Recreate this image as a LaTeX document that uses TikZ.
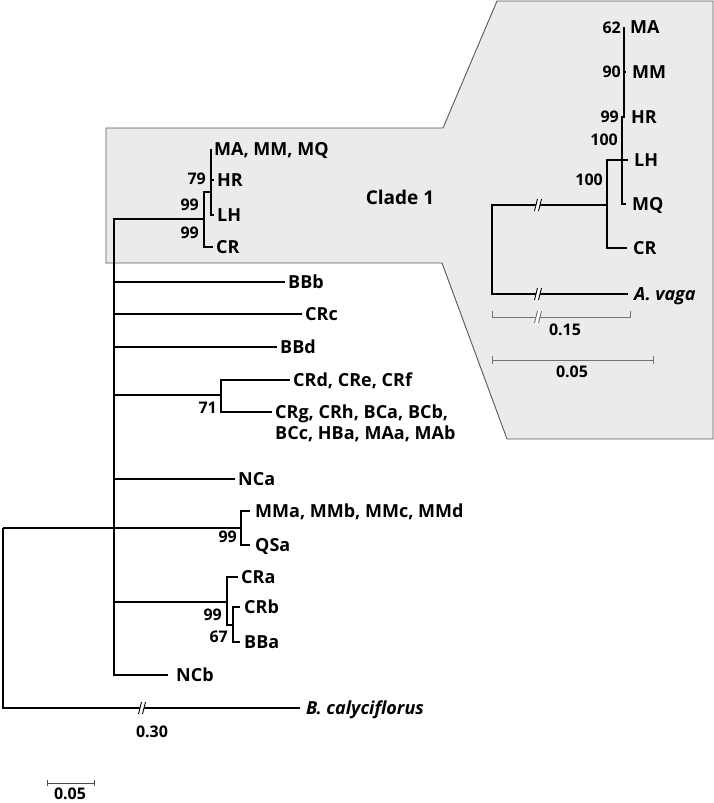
\documentclass[tikz,border=0pt]{standalone}
\usepackage{fontspec}
\setmainfont{Open Sans}

\tikzset{
	branch/.style={line width=1.3pt},
	taxon/.style={anchor=west, inner xsep=3pt, inner ysep=0pt, text height=13pt, text depth=0pt, font=\fontsize{18}{22}\selectfont\bfseries},
	itaxon/.style={taxon, inner xsep=6pt},
	boot/.style={anchor=east, inner sep=0pt, text height=11.5pt, text depth=0pt, font=\fontsize{16}{19}\selectfont\bfseries},
	bar/.style={line width=1pt, draw=black!55},
	brk/.pic={
		\fill[white] (-3.5,6) -- (-0.5,-6) -- (3.5,-6) -- (0.5,6) -- cycle;
		\draw[line width=0.9pt] (-3.5,6) -- (-0.5,-6) (0.5,6) -- (3.5,-6);
	}
}

\begin{document}
\begin{tikzpicture}[x=1pt,y=-1pt]
		\useasboundingbox (0,0) rectangle (714,803);
		% grey box for clade 1 and its blow-up
		\filldraw[fill=black!8, draw=black!65, line width=0.9pt] (106,128) -- (443,128) -- (497,1) -- (713,1) -- (713,439) -- (507,439) -- (442,263) -- (106,263) -- cycle;
		\node[font=\fontsize{19}{23}\selectfont\bfseries] (clade) at (400,197) {Clade 1};
		% inner nodes of the main tree
		\coordinate (root) at (3,528);
		\coordinate (bb) at (114,528);
		\coordinate (c1) at (204,219);
		\coordinate (c1a) at (211,192);
		\coordinate (n71) at (221,395);
		\coordinate (nmm) at (241,528);
		\coordinate (ncra) at (227,602);
		\coordinate (ncrb) at (233,625);
		% tips
		\node[taxon] (mam) at (211,149) {MA, MM, MQ};
		\node[taxon] (hr) at (214,180) {HR};
		\node[taxon] (lh) at (214,215) {LH};
		\node[taxon] (cr) at (213,247) {CR};
		\node[taxon] (bbb) at (285,282) {BBb};
		\node[taxon] (crc) at (302,314) {CRc};
		\node[taxon] (bbd) at (277,347) {BBd};
		\node[taxon] (crd) at (290,380) {CRd, CRe, CRf};
		\node[taxon] (crg) at (272,412) {CRg, CRh, BCa, BCb,};
		\node[taxon] (crg2) at (272,433) {BCc, HBa, MAa, MAb};
		\node[taxon] (nca) at (235,479) {NCa};
		\node[taxon, inner xsep=5pt] (mma) at (250,511) {MMa, MMb, MMc, MMd};
		\node[taxon, inner xsep=5pt] (qsa) at (250,545) {QSa};
		\node[taxon] (cra) at (238,577) {CRa};
		\node[taxon, inner xsep=4pt] (crb) at (240,607) {CRb};
		\node[taxon, inner xsep=4pt] (bba) at (240,642) {BBa};
		\node[taxon, inner xsep=8pt] (ncb) at (168,675) {NCb};
		\node[taxon, inner xsep=6pt] (bcal) at (300,708) {\itshape B. calyciflorus};
		% branches
		\draw[branch] (root) -- (bb);
		\draw[branch] (root) |- (bcal.west);
		\foreach \t in {c1, bbb.west, crc.west, bbd.west, n71, nca.west, nmm, ncra, ncb.west}
			\draw[branch] (bb) |- (\t);
		\draw[branch] (c1) |- (c1a);
		\draw[branch] (c1) |- (cr.west);
		\foreach \t in {mam.west, hr.west, lh.west}
			\draw[branch] (c1a) |- (\t);
		\draw[line width=2.6pt] (211,165) -- (211,178);
		\draw[branch] (n71) |- (crd.west);
		\draw[branch] (n71) |- (crg.west);
		\draw[branch] (nmm) |- (mma.west);
		\draw[branch] (nmm) |- (qsa.west);
		\draw[branch] (ncra) |- (cra.west);
		\draw[branch] (ncra) |- (ncrb);
		\draw[branch] (ncrb) |- (crb.west);
		\draw[branch] (ncrb) |- (bba.west);
		\pic at (142,708) {brk};
		% bootstrap values
		\node[boot] (b79) at (206,179) {79};
		\node[boot] (b99a) at (199,205) {99};
		\node[boot] (b99b) at (199,233) {99};
		\node[boot] (b71) at (217,408) {71};
		\node[boot] (b99c) at (237,537) {99};
		\node[boot] (b99d) at (222,615) {99};
		\node[boot] (b67) at (228,637) {67};
		% inset: clade 1 with A. vaga
		\coordinate (iroot) at (492,250);
		\coordinate (in1) at (607,205);
		\coordinate (in2) at (622,160);
		\coordinate (in3) at (624,117);
		\node[itaxon] (ima) at (624,27) {MA};
		\node[itaxon] (imm) at (626,72) {MM};
		\node[itaxon] (ihr) at (625,117) {HR};
		\node[itaxon] (ilh) at (628,160) {LH};
		\node[itaxon] (imq) at (626,204) {MQ};
		\node[itaxon] (icr) at (627,248) {CR};
		\node[itaxon] (iav) at (628,294) {\itshape A. vaga};
		\draw[branch] (iroot) |- (in1);
		\draw[branch] (iroot) |- (iav.west);
		\draw[branch] (in1) |- (ilh.west);
		\draw[branch] (in1) |- (icr.west);
		\draw[branch] (in2) |- (in3);
		\draw[branch] (in2) |- (imq.west);
		\foreach \t in {ima.west, imm.west, ihr.west}
			\draw[branch] (in3) |- (\t);
		\draw[line width=2.6pt] (624,72) -- (624,117);
		\pic at (538,205) {brk};
		\pic at (538,294) {brk};
		\node[boot] (i62) at (621,28) {62};
		\node[boot] (i90) at (621,72) {90};
		\node[boot] (i99) at (619,117) {99};
		\node[boot] (i100a) at (618,140) {100};
		\node[boot] (i100b) at (603,180) {100};
		% scale bars
		\draw[bar] (492,311) -- (492,317) -- (630,317) -- (630,311);
		\pic[black!55] at (538,317) {brk};
		\node[boot, anchor=center] (s015) at (565,330) {0.15};
		\draw[bar] (492,356) -- (492,364) (492,360) -- (653,360) (653,356) -- (653,364);
		\node[boot, anchor=center] (s005) at (572,372) {0.05};
		\node[boot, anchor=center] (s030) at (152,732) {0.30};
		\draw[bar, draw=black!70] (47,780) -- (47,786) (47,783) -- (94,783) (94,780) -- (94,786);
		\node[boot, anchor=center] (sbar) at (70,794) {0.05};
\end{tikzpicture}
\end{document}
